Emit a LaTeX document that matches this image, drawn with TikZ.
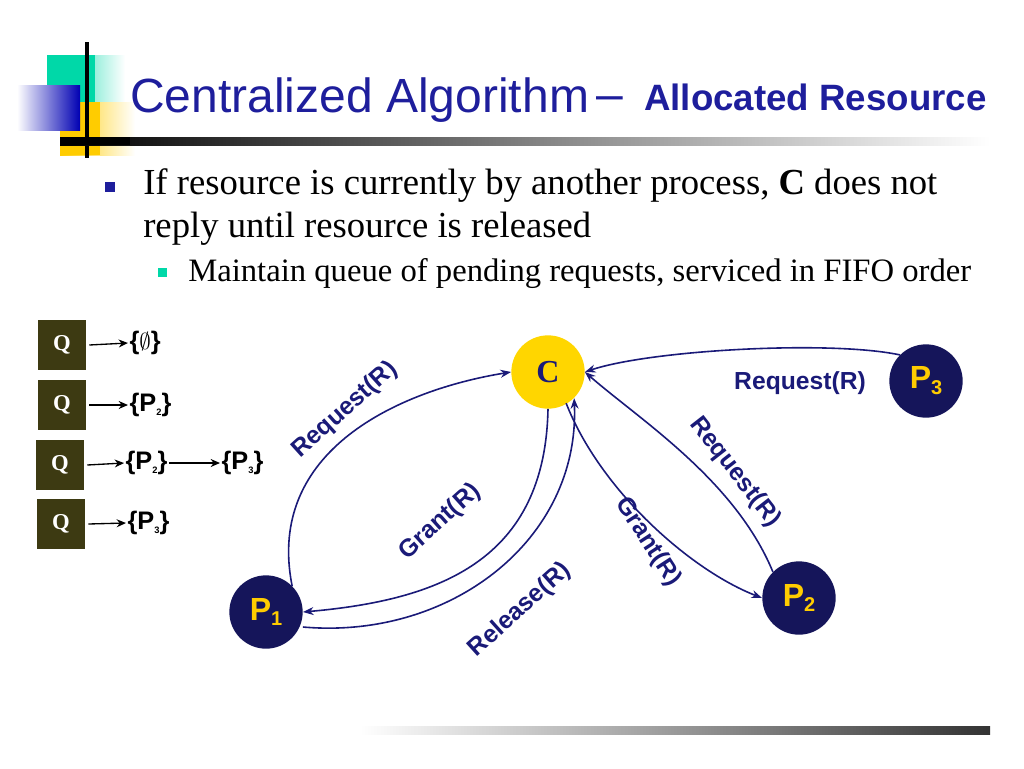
\documentclass[tikz,border=0pt]{standalone}
\usepackage{fontspec}
\setmainfont{Liberation Serif}
\setsansfont{Liberation Sans}
\usetikzlibrary{arrows.meta}
\definecolor{ttl}{HTML}{1E1E9C}
\definecolor{navy}{HTML}{1A1A78}
\definecolor{pnode}{HTML}{15155A}
\definecolor{qbox}{HTML}{3D3A12}
\definecolor{teal}{HTML}{00D8A8}
\definecolor{ylw}{HTML}{FFCC00}
\newcommand{\subsf}[1]{\raisebox{-0.3ex}{\scriptsize #1}}
\newcommand{\subbig}[1]{\raisebox{-0.35ex}{\fontsize{15}{15}\selectfont #1}}
\tikzset{
 proc/.style={circle,fill=pnode,minimum size=55pt,text=ylw,font=\sffamily\bfseries\fontsize{24}{24}\selectfont},
 qb/.style={fill=qbox,minimum width=36pt,minimum height=37pt,text=white,font=\bfseries\fontsize{17}{17}\selectfont},
 setn/.style={font=\sffamily\bfseries\fontsize{19}{19}\selectfont,inner sep=1pt,anchor=west},
 lab/.style={text=navy,font=\sffamily\bfseries\fontsize{18.5}{18.5}\selectfont},
 flow/.style={navy,line width=1.2pt,-{Stealth[length=8pt,width=6pt]}},
 qarr/.style={black,line width=1pt,-{Stealth[length=7pt,width=6pt]}}
}
\begin{document}
\begin{tikzpicture}[x=0.75pt,y=-0.75pt]
\useasboundingbox (0,0) rectangle (1024,768);
% logo
\fill[left color=teal,right color=white] (47,55) rectangle (125,102);
\fill[teal] (47,55) rectangle (95,102);
\fill[left color=ylw,right color=white] (60,102) rectangle (135,155);
\fill[ylw] (60,102) rectangle (100,155);
\fill[left color=white,right color=blue!70!black] (17,85) rectangle (80,130);
\draw[line width=3pt] (87,42) -- (87,158);
\fill[left color=black,right color=white] (60,137) rectangle (990,145);
\fill[black] (60,137) rectangle (130,145);
% title
\node[anchor=base west,text=ttl,font=\sffamily\fontsize{36}{36}\selectfont,inner sep=0] (t1) at (130,112) {Centralized Algorithm};
\node[anchor=base west,text=ttl,font=\sffamily\fontsize{36}{36}\selectfont,inner sep=0] (t2) at (596,110) {–};
\node[anchor=base west,text=ttl,font=\sffamily\bfseries\fontsize{27.5}{27.5}\selectfont,inner sep=0] (t3) at (644,110) {Allocated Resource};
% bullets
\fill[ttl] (105,182) rectangle (115,192);
\node[anchor=base west,inner sep=0,font=\fontsize{27.5}{27.5}\selectfont] (b1) at (143,194) {If resource is currently by another process, \textbf{C} does not};
\node[anchor=base west,inner sep=0,font=\fontsize{27.5}{27.5}\selectfont] (b2) at (143,237) {reply until resource is released};
\fill[teal] (158,268) rectangle (167,277);
\node[anchor=base west,inner sep=0,font=\fontsize{24.5}{24.5}\selectfont] (b3) at (188,281) {Maintain queue of pending requests, serviced in FIFO order};
\fill[left color=white,right color=black!80] (360,726) rectangle (990,734);
% queues
\node[qb] (q1) at (62,345) {Q};
\node[qb] (q2) at (62,405) {Q};
\node[qb] (q3) at (60,465) {Q};
\node[qb] (q4) at (61,524) {Q};
\node[setn] (s1) at (128,343) {\{$\emptyset$\}};
\node[setn] (s2) at (128,405) {\{P\subsf{2}\}};
\node[setn] (s3) at (124,463) {\{P\subsf{2}\}};
\node[setn] (s3b) at (220,463) {\{P\subsf{3}\}};
\node[setn] (s4) at (126,523) {\{P\subsf{3}\}};
\draw[qarr] (q1.east) ++(3,0) -- (s1.west);
\draw[qarr] (q2.east) ++(3,0) -- (s2.west);
\draw[qarr] (q3.east) ++(3,0) -- (s3.west);
\draw[qarr] (s3.east) -- (s3b.west);
\draw[qarr] (q4.east) ++(3,0) -- (s4.west);
% processes
\node[circle,fill=ylw!80!yellow,minimum size=55pt,text=navy,font=\bfseries\fontsize{24}{24}\selectfont] (C) at (548,372) {C};
\node[proc] (P1) at (266,612) {P\subbig{1}};
\node[proc] (P2) at (799,598) {P\subbig{2}};
\node[proc] (P3) at (926,381) {P\subbig{3}};
% flows
\draw[flow] (P1.north east) .. controls (265,450) and (400,390) .. (C.west);
\draw[flow] (C.south) .. controls (545,560) and (440,600) .. (P1.east);
\draw[flow] (P1.east) ++(0,15) .. controls (450,640) and (580,540) .. (C.south east);
\draw[flow] (P3.north west) .. controls (830,340) and (650,350) .. (C.east);
\draw[flow] (C.south east) ++(-8,5) .. controls (600,490) and (690,570) .. (P2.west);
\draw[flow] (P2.north west) .. controls (735,480) and (640,420) .. (C.east);
\node[lab,rotate=42] (l1) at (345,410) {Request(R)};
\node[lab,rotate=42] (l2) at (440,522) {Grant(R)};
\node[lab,rotate=42] (l3) at (520,610) {Release(R)};
\node[lab] (l4) at (800,383) {Request(R)};
\node[lab,rotate=-57] (l5) at (648,542) {Grant(R)};
\node[lab,rotate=-52] (l6) at (735,472) {Request(R)};
\end{tikzpicture}
\end{document}
